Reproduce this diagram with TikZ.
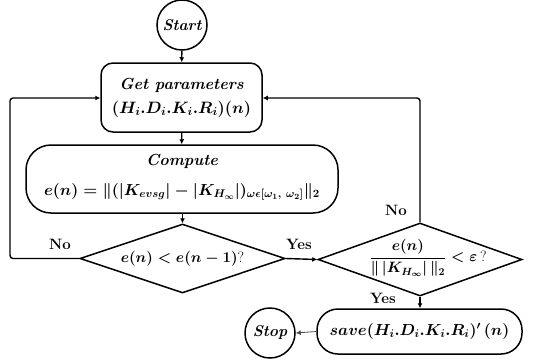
\RequirePackage{fix-cm}
\documentclass[tikz,border=0pt]{standalone}
\usepackage{amsmath}
\usetikzlibrary{shapes.geometric,arrows.meta}
\begin{document}
\begin{tikzpicture}[x=1pt,y=-1pt,
  blk/.style={draw,line width=1.5pt,inner sep=0pt},
  rbox/.style={blk,rectangle},
  dia/.style={blk,diamond},
  circ/.style={blk,circle,minimum size=50pt,font=\fontsize{15.5}{17}\selectfont\bfseries\itshape},
  conn/.style={line width=1.4pt,-{Latex[length=5pt,width=5pt]}},
  lab/.style={font=\fontsize{15}{17}\selectfont\bfseries},
  bi/.style={font=\fontsize{16}{18}\selectfont\bfseries\itshape},
  m15/.style={font=\fontsize{15}{17}\selectfont\boldmath},
  m16/.style={font=\fontsize{16}{18}\selectfont\boldmath},
  m17/.style={font=\fontsize{16.5}{18}\selectfont\boldmath}]
\useasboundingbox (0,0) rectangle (553,362);
\node[circ] (start) at (182,25) {Start};
\node[rbox,rounded corners=12pt,minimum width=161pt,minimum height=69pt] (get) at (181.5,97.5) {};
\node[bi] (gett1) at (181.5,85) {Get parameters};
\node[m17] (gett2) at (181.5,109) {$(H_i.D_i.K_i.R_i)(n)$};
\node[rbox,rounded corners=25pt,minimum width=312pt,minimum height=68pt] (comp) at (182,179) {};
\node[bi,inner sep=1pt] (compt1) at (182,161) {Compute};
\node[m16,inner sep=1pt] (compt2) at (182,192) {$e(n)=\|(|K_{evsg}|-|K_{H_\infty}|)_{\omega\epsilon[\omega_1,\ \omega_2]}\|_2$};
\node[dia,minimum width=205pt,minimum height=69pt] (d1) at (182.5,258.5) {};
\node[m15] (d1t) at (182.5,258.5) {$e(n)<e(n-1)$?};
\node[dia,minimum width=204pt,minimum height=73pt] (d2) at (420,259.5) {};
\node[m15] (d2t) at (428,258) {$\dfrac{e(n)}{\|\,|K_{H_\infty}|\,\|_2}<\varepsilon\,$?};
\node[rbox,rounded corners=21pt,minimum width=205pt,minimum height=45pt,m16] (save) at (419.5,331.5)
  {$save(H_i.D_i.K_i.R_i)'\,(n)$};
\node[circ] (stop) at (270,333) {Stop};
\coordinate (lc1) at (10,258.5);
\coordinate (lc2) at (10,98);
\coordinate (rc) at (420,98);
\draw[conn] (start) -- (get);
\draw[conn] (get) -- (comp);
\draw[conn] (comp.south -| d1.north) -- (d1);
\draw[conn] (d1.east) -- (d2.west);
\draw[conn] (d2.south) -- (save.north -| d2.south);
\draw[conn,rounded corners=3pt] (d1.west) -- (lc1) -- (lc2) -- (get.west |- lc2);
\draw[conn,rounded corners=3pt] (d2.north) -- (rc) -- (get.east |- rc);
\draw[line width=0.8pt,draw=black!70,-{Latex[length=5pt,width=5pt]}] (save.west) -- (stop.east);
\node[lab] (no1) at (60,244) {No};
\node[lab] (yes1) at (299,244) {Yes};
\node[lab] (no2) at (396,210) {No};
\node[lab] (yes2) at (383,298) {Yes};
\end{tikzpicture}
\end{document}
